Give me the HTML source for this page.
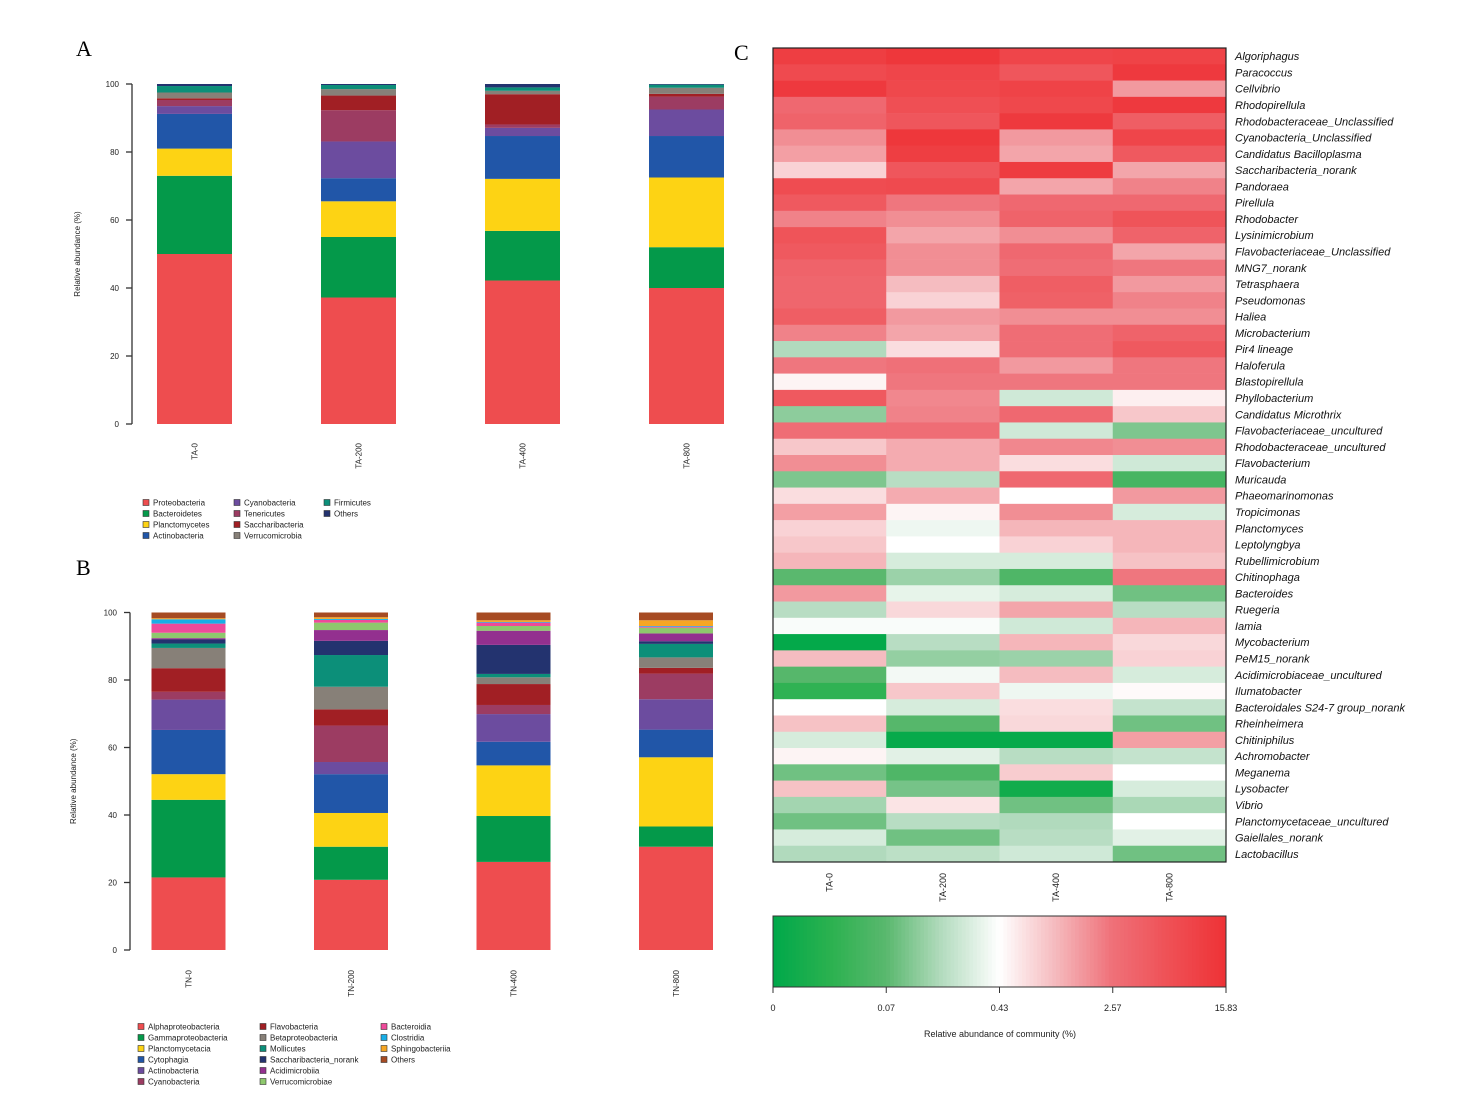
<!DOCTYPE html>
<html><head><meta charset="utf-8"><style>
html,body{margin:0;padding:0;background:#fff;}
svg{display:block;font-family:"Liberation Sans",Arial,sans-serif;}
</style></head><body>
<svg id="fig" width="1473" height="1117" viewBox="0 0 1473 1117">
<text x="76" y="56" font-family="Liberation Serif,serif" font-size="22">A</text>
<text x="76" y="575" font-family="Liberation Serif,serif" font-size="22">B</text>
<text x="734" y="60" font-family="Liberation Serif,serif" font-size="22">C</text>
</svg>
<script>
// ---------- Panel A data ----------
const catA = ["TA-0","TA-200","TA-400","TA-800"];
const taxaA = ["Proteobacteria","Bacteroidetes","Planctomycetes","Actinobacteria","Cyanobacteria","Tenericutes","Saccharibacteria","Verrucomicrobia","Firmicutes","Others"];
const colA = ["#ee4d4f","#04994a","#fdd314","#2156a8","#6c4c9f","#9c3c62","#a11f24","#878078","#0c8f79","#23336f"];
const valA0 = [50,23,8,10.2,2.3,1.8,0.5,1.7,1.9,0.6];
const valA200 = [37.2,17.8,10.5,6.8,10.8,9.2,4.3,1.9,1.2,0.3];
const valA400 = [42.2,14.6,15.3,12.6,2.4,1,8.9,1,1,1];
const valA800 = [40,12,20.5,12.2,7.8,3.8,0.8,1.8,0.9,0.2];
const valsA = [valA0,valA200,valA400,valA800];
const ticksY = [0,20,40,60,80,100];

// ---------- Panel B data ----------
const catB = ["TN-0","TN-200","TN-400","TN-800"];
const taxaB = ["Alphaproteobacteria","Gammaproteobacteria","Planctomycetacia","Cytophagia","Actinobacteria","Cyanobacteria","Flavobacteria","Betaproteobacteria","Mollicutes","Saccharibacteria_norank","Acidimicrobiia","Verrucomicrobiae","Bacteroidia","Clostridia","Sphingobacteriia","Others"];
const colB = ["#ee4d4f","#04994a","#fdd314","#2156a8","#6c4c9f","#9c3c62","#a11f24","#878078","#0c8f79","#23336f","#93308f","#8ec86d","#ee4a9a","#19aee6","#f6a623","#a64b23"];
const valB0 = [21.5,23,7.6,13.1,9,2.3,7,6,1.3,1.2,0.4,1.6,2.7,1.3,0.3,1.7];
const valB200 = [20.8,9.8,10,11.5,3.6,10.8,4.8,6.7,9.4,4.2,3.2,2.2,0.8,0.3,0.5,1.4];
const valB400 = [26.1,13.6,15,7,8.2,2.7,6.2,2,1,8.6,4.2,1.4,1,0.2,0.5,2.3];
const valB800 = [30.6,6,20.5,8.2,9,7.6,1.7,3.1,4,0.8,2.3,1.7,0.3,0.2,1.7,2.3];
const valsB = [valB0,valB200,valB400,valB800];

// ---------- Panel C data ----------
const catC = ["TA-0","TA-200","TA-400","TA-800"];
const genera = ["Algoriphagus","Paracoccus","Cellvibrio","Rhodopirellula","Rhodobacteraceae_Unclassified","Cyanobacteria_Unclassified","Candidatus Bacilloplasma","Saccharibacteria_norank","Pandoraea","Pirellula","Rhodobacter","Lysinimicrobium","Flavobacteriaceae_Unclassified","MNG7_norank","Tetrasphaera","Pseudomonas","Haliea","Microbacterium","Pir4 lineage","Haloferula","Blastopirellula","Phyllobacterium","Candidatus Microthrix","Flavobacteriaceae_uncultured","Rhodobacteraceae_uncultured","Flavobacterium","Muricauda","Phaeomarinomonas","Tropicimonas","Planctomyces","Leptolyngbya","Rubellimicrobium","Chitinophaga","Bacteroides","Ruegeria","Iamia","Mycobacterium","PeM15_norank","Acidimicrobiaceae_uncultured","Ilumatobacter","Bacteroidales S24-7 group_norank","Rheinheimera","Chitiniphilus","Achromobacter","Meganema","Lysobacter","Vibrio","Planctomycetaceae_uncultured","Gaiellales_norank","Lactobacillus"];
const heatTA0 = [11.0,7.64,12.7,3.19,3.69,1.79,1.45,0.76,7.1,4.94,2.07,5.71,4.94,3.69,3.43,3.43,4.27,2.07,0.167,2.39,0.496,4.94,0.116,2.76,0.88,1.79,0.10,0.66,1.45,0.76,0.88,1.09,0.07,1.55,0.18,0.40,0.003,1.01,0.067,0.039,0.43,0.94,0.26,0.496,0.087,0.94,0.145,0.087,0.26,0.167];
const heatTA200 = [13.65,8.83,8.2,6.6,5.31,13.65,11.0,5.31,7.64,2.39,1.79,1.35,1.79,1.79,1.01,0.76,1.55,1.35,0.66,2.57,2.39,1.93,2.07,2.76,1.25,1.25,0.18,1.25,0.496,0.35,0.43,0.26,0.134,0.32,0.71,0.40,0.18,0.125,0.37,0.88,0.26,0.067,0.006,0.30,0.062,0.093,0.61,0.18,0.087,0.19];
const heatTA400 = [8.83,5.31,9.5,8.2,12.7,1.55,1.35,11.8,1.35,3.19,3.69,1.79,3.19,2.76,4.27,3.97,1.79,2.76,2.76,1.55,2.39,0.24,3.19,0.24,1.93,0.66,3.19,0.43,1.79,1.09,0.76,0.26,0.062,0.26,1.35,0.24,1.09,0.134,1.01,0.35,0.66,0.71,0.006,0.18,0.82,0.014,0.087,0.167,0.18,0.24];
const heatTA800 = [9.5,12.7,1.55,12.7,4.27,8.83,4.94,1.35,2.07,3.19,5.71,3.69,1.35,2.39,1.55,2.07,1.79,3.69,4.94,2.39,2.39,0.53,0.88,0.10,1.79,0.24,0.056,1.55,0.26,1.09,1.09,0.94,2.39,0.087,0.18,1.09,0.71,0.76,0.26,0.46,0.208,0.087,1.45,0.208,0.43,0.26,0.155,0.43,0.30,0.087];
const heatCols = [heatTA0,heatTA200,heatTA400,heatTA800];
const scaleTicks = [0,0.07,0.43,2.57,15.83];

const NS="http://www.w3.org/2000/svg";
const svg=document.getElementById('fig');
function mk(tag,attrs,parent){const e=document.createElementNS(NS,tag);for(const k in attrs)e.setAttribute(k,attrs[k]);(parent||svg).appendChild(e);return e;}
function txt(s,attrs,parent){const e=mk('text',attrs,parent);e.textContent=s;return e;}

function stackPanel(cfg){
  const g=mk('g',{});
  
  
  const y=v=>cfg.y0+(cfg.y100-cfg.y0)*v/100;
  const ax=mk('g',{},g);
  
  
  mk('line',{x1:cfg.axX,x2:cfg.axX,y1:y(0),y2:y(100),stroke:'#333','stroke-width':1.3},ax);
  ticksY.forEach(t=>{
    mk('line',{x1:cfg.axX-6,x2:cfg.axX,y1:y(t),y2:y(t),stroke:'#333','stroke-width':1.3},ax);
    const tl=txt(String(t),{x:cfg.axX-13,y:y(t)+3,'font-size':8,'text-anchor':'end',fill:'#222'},ax);
    
    
  });
  const yt=txt('Relative abundance (%)',{x:0,y:0,'font-size':8,'text-anchor':'middle',fill:'#222',transform:`translate(${cfg.titleX},${(y(0)+y(100))/2}) rotate(-90)`},g);
  
  
  cfg.cats.forEach((c,i)=>{
    const cx=cfg.firstCx+i*cfg.step;
    let acc=0;
    cfg.vals[i].forEach((v,j)=>{
      const r=mk('rect',{x:cx-cfg.bw/2,y:y(acc+v),width:cfg.bw,height:Math.max(0,y(acc)-y(acc+v)),fill:cfg.colors[j]},g);
      
      
      acc+=v;
    });
    const xl=txt(c,{x:0,y:0,'font-size':8,'text-anchor':'end',fill:'#222',transform:`translate(${cx+3},${cfg.xlabY}) rotate(-90)`},g);
    
    
  });
  const lg=mk('g',{},g);
  
  
  cfg.taxa.forEach((t,j)=>{
    const col=Math.floor(j/cfg.rows), row=j%cfg.rows;
    const lx=cfg.legX[col], ly=cfg.legY0+row*cfg.legDy;
    const e=mk('g',{},lg);
    
    
    mk('rect',{x:lx-3,y:ly-3.5,width:6,height:6,fill:cfg.colors[j],stroke:'#333','stroke-width':0.6},e);
    txt(t,{x:lx+7,y:ly+2.5,'font-size':8,fill:'#222'},e);
  });
}

stackPanel({name:'panel-a-stacked-bar-chart',cats:catA,taxa:taxaA,colors:colA,vals:valsA,
  axX:132,y0:424,y100:84,firstCx:194.5,step:164,bw:75,xlabY:443,titleX:80,
  legX:[146,237,327],legY0:503,legDy:11,rows:4});
stackPanel({name:'panel-b-stacked-bar-chart',cats:catB,taxa:taxaB,colors:colB,vals:valsB,
  axX:130,y0:950,y100:612.5,firstCx:188.5,step:162.5,bw:74,xlabY:970,titleX:76,
  legX:[141,263,384],legY0:1027,legDy:11,rows:6});

function valToPos(v){
  if(v<=scaleTicks[1]) return 0.25*v/scaleTicks[1];
  for(let k=1;k<scaleTicks.length-1;k++){
    if(v<=scaleTicks[k+1]) return 0.25*k+0.25*Math.log(v/scaleTicks[k])/Math.log(scaleTicks[k+1]/scaleTicks[k]);
  }
  return 1;
}
const stops=[[0,[0,168,74]],[0.125,[42,177,79]],[0.25,[90,184,110]],[0.375,[181,220,192]],[0.5,[255,255,255]],[0.625,[245,185,189]],[0.75,[239,112,120]],[0.875,[239,80,85]],[1,[238,50,54]]];
function posToColor(p){
  p=Math.max(0,Math.min(1,p));
  for(let k=0;k<stops.length-1;k++){
    const [a,ca]=stops[k],[b,cb]=stops[k+1];
    if(p<=b){const f=(p-a)/(b-a);return 'rgb('+ca.map((c,i)=>Math.round(c+(cb[i]-c)*f)).join(',')+')';}
  }
  return 'rgb(238,50,54)';
}
const hx0=773,hx1=1226,hy0=48,hy1=862;
const cw=(hx1-hx0)/catC.length, rh=(hy1-hy0)/genera.length;
const hg=mk('g',{});


heatCols.forEach((colVals,i)=>{
  colVals.forEach((v,r)=>{
    const c=mk('rect',{x:hx0+i*cw,y:hy0+r*rh,width:cw+0.3,height:rh+0.3,fill:posToColor(valToPos(v))},hg);
    
    
  });
  const xl=txt(catC[i],{x:0,y:0,'font-size':9,'text-anchor':'end',fill:'#222',transform:`translate(${hx0+(i+0.5)*cw+3},873) rotate(-90)`},hg);
  
  
});
mk('rect',{x:hx0,y:hy0,width:hx1-hx0,height:hy1-hy0,fill:'none',stroke:'#222','stroke-width':1.2},hg);
genera.forEach((gname,r)=>{
  const t=txt(gname,{x:1235,y:hy0+(r+0.5)*rh+4,'font-size':11,'font-style':'italic',fill:'#111'},hg);
  
  
});
const cb=mk('g',{});


const cby0=916,cby1=987,N=120;
for(let k=0;k<N;k++){
  const p=(k+0.5)/N;
  mk('rect',{x:hx0+(hx1-hx0)*k/N,y:cby0,width:(hx1-hx0)/N+0.5,height:cby1-cby0,fill:posToColor(p)},cb);
}
mk('rect',{x:hx0,y:cby0,width:hx1-hx0,height:cby1-cby0,fill:'none',stroke:'#333','stroke-width':1},cb);
scaleTicks.forEach((t,k)=>{
  const x=hx0+(hx1-hx0)*valToPos(t);
  mk('line',{x1:x,x2:x,y1:cby1,y2:cby1+6,stroke:'#333','stroke-width':1},cb);
  const tl=txt(String(t),{x:x,y:1011,'font-size':9,'text-anchor':'middle',fill:'#222'},cb);
  
  
});
const ct=txt('Relative abundance of community (%)',{x:1000,y:1037,'font-size':9,'text-anchor':'middle',fill:'#222'},cb);


</script>
</body></html>
